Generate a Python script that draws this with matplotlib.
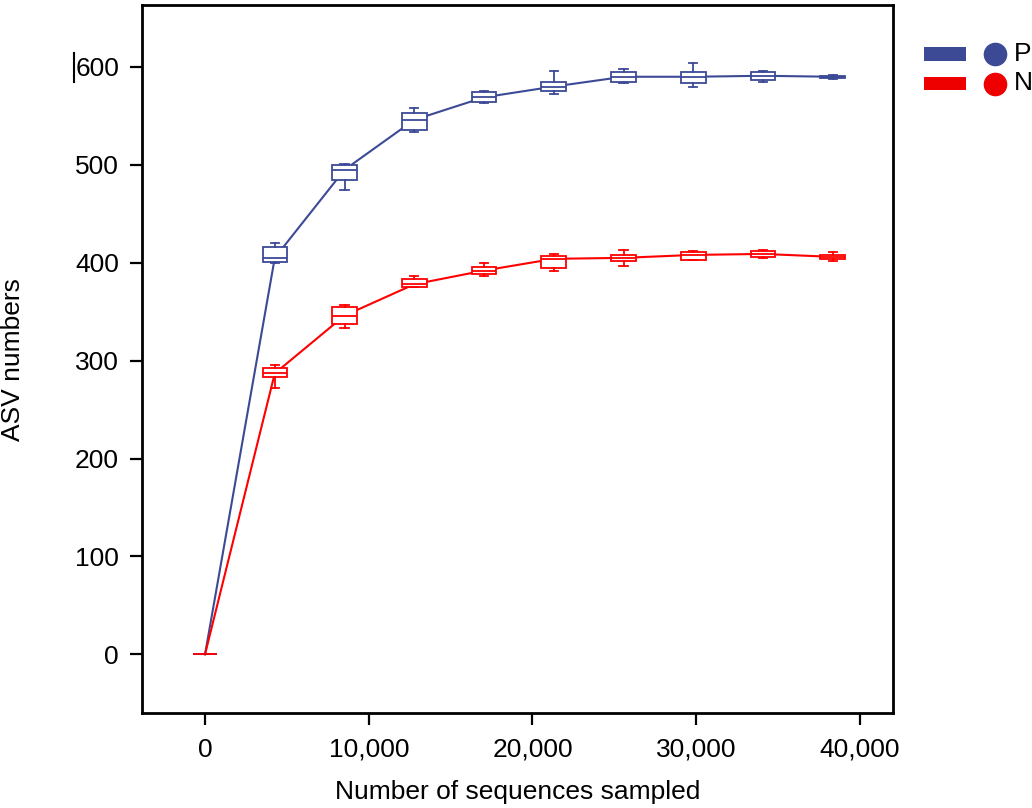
import matplotlib
matplotlib.use("Agg")
from matplotlib import pyplot as plt
from matplotlib.lines import Line2D
from matplotlib.patches import Rectangle
from matplotlib.ticker import FuncFormatter

plt.rcParams['font.family'] = ['Liberation Sans', 'DejaVu Sans']

# sampling depths
depths = [0, 4260, 8520, 12780, 17040, 21300, 25560, 29820, 34080, 38340]

# P group: whisker low, q1, median, q3, whisker high
p_lo  = [0, 400, 474, 534, 563, 572, 584, 580, 585, 588]
p_q1  = [0, 401, 485, 536, 564, 575, 585, 584, 587, 589]
p_med = [0, 405, 495, 546, 569, 580, 590, 590, 591, 590]
p_q3  = [0, 416, 500, 553, 574, 585, 595, 595, 595, 591]
p_hi  = [0, 420, 501, 558, 575, 596, 598, 604, 596, 592]

# N group
n_lo  = [0, 272, 333, 375, 386, 392, 397, 403, 405, 402]
n_q1  = [0, 283, 337, 375, 388, 395, 402, 403, 406, 404]
n_med = [0, 287, 346, 378, 392, 404, 405, 408, 409, 406]
n_q3  = [0, 292, 355, 383, 396, 407, 408, 411, 412, 408]
n_hi  = [0, 296, 357, 386, 400, 409, 413, 412, 413, 411]

groups = ['P', 'N']
colors = ['#3C4A96', '#FF0000']
legend_colors = ['#3C4A96', '#EE0000']


def box_stats(lo, q1, med, q3, hi):
    return [dict(whislo=a, q1=b, med=c, q3=d, whishi=e, fliers=[])
            for a, b, c, d, e in zip(lo, q1, med, q3, hi)]


fig = plt.figure(figsize=(10.32, 8.08), dpi=100)
ax = fig.add_axes([0.1376, 0.1173, 0.8653 - 0.1376, 0.9938 - 0.1173])

series = [(p_lo, p_q1, p_med, p_q3, p_hi), (n_lo, n_q1, n_med, n_q3, n_hi)]
for (lo, q1, med, q3, hi), col in zip(series, colors):
    ax.plot(depths, med, color=col, lw=1.5, zorder=2)
    st = dict(color=col, linewidth=1.3)
    ax.bxp(box_stats(lo, q1, med, q3, hi), positions=depths, widths=1500,
           capwidths=500, patch_artist=True, manage_ticks=False,
           boxprops=dict(facecolor='white', edgecolor=col, linewidth=1.3),
           medianprops=st, whiskerprops=st, capprops=st, zorder=3)

ax.set_xlim(-3850, 42020)
ax.set_ylim(-60.2, 663.3)
ax.set_xticks([0, 10000, 20000, 30000, 40000])
ax.set_yticks([0, 100, 200, 300, 400, 500, 600])
ax.xaxis.set_major_formatter(FuncFormatter(lambda v, p: f"{int(v):,}"))
ax.tick_params(direction='out', length=8.5, width=1.6, labelsize=19, pad=8)
ax.tick_params(axis='x', pad=9)
for s in ax.spines.values():
    s.set_linewidth(2)

ax.set_xlabel('Number of sequences sampled', fontsize=19, labelpad=13)
ax.set_ylabel('ASV numbers', fontsize=19, labelpad=36)

# legend drawn by hand, outside the axes
W, H = 1032, 808
for i, (g, col) in enumerate(zip(groups, legend_colors)):
    yc = 54 + i * 29.5
    fig.add_artist(Rectangle((924 / W, 1 - (yc + 6.7) / H), 42 / W, 13.4 / H,
                             transform=fig.transFigure, color=col, lw=0))
    fig.add_artist(Line2D([995 / W], [1 - yc / H], marker='o', markersize=16,
                          color=col, lw=0, transform=fig.transFigure))
    fig.text(1014 / W, 1 - yc / H, g, fontsize=19, va='center', ha='left')

# stray cursor mark next to the 600 label
fig.add_artist(Line2D([74 / W, 74 / W], [1 - 53 / H, 1 - 82 / H],
                      color='black', lw=1.5, transform=fig.transFigure))

fig.savefig('out.png', dpi=100)
